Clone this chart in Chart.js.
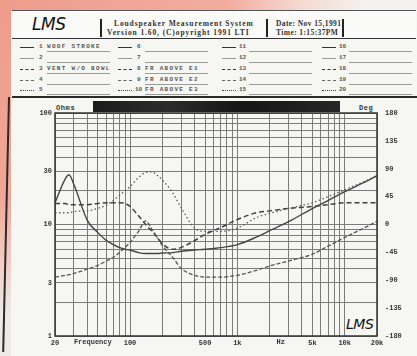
<!DOCTYPE html>
<html>
<head>
<meta charset="utf-8">
<script src="https://cdn.jsdelivr.net/npm/chart.js@4.4.1/dist/chart.umd.min.js"></script>
<style>
html, body { margin: 0; padding: 0; }
body { width: 417px; height: 356px; overflow: hidden; position: relative; background: #f6f6f3; color: #2a2a2a; }
.abs { position: absolute; }
#pinkTop { left: 0; top: 0; width: 417px; height: 11px; background: linear-gradient(90deg, #ee9c8c 0%, #f2ad9f 55%, #f5d9d1 72%, #f4f2ef 88%); }
#pinkLeft { left: 0; top: 0; width: 11px; height: 356px; background: linear-gradient(180deg, #ee9c8c 0%, #f0a797 55%, #f3cfc6 74%, #ecebe8 88%); }
#head { left: 12px; top: 10px; width: 404px; height: 27px; background: #fafaf8; border-top: 1px solid #555; border-bottom: 1px solid #333; }
.sep { top: 19px; width: 2px; height: 18px; background: #222; }
.htxt { font-family: "Liberation Serif", serif; font-weight: bold; font-size: 7.5px; letter-spacing: 0.9px; white-space: nowrap; color: #333; }
#logo { left: 32px; top: 14px; font-family: "DejaVu Sans", sans-serif; font-style: italic; font-size: 17px; color: #111; letter-spacing: -0.5px; }
.leg { height: 0; }
.num { font-family: "Liberation Mono", monospace; font-weight: bold; font-size: 6px; color: #555; }
.ltxt { font-family: "Liberation Mono", monospace; font-weight: bold; font-size: 6px; letter-spacing: 1.3px; color: #555; white-space: nowrap; }
.uline { height: 0; border-top: 1px solid #9a9a96; }
#rule { left: 12px; top: 96px; width: 405px; height: 2px; background: #2b2b2b; }
#vrule { left: 8px; top: 97px; width: 2px; height: 255px; background: #2b2b2b; transform: rotate(1.3deg); transform-origin: top left; }
#bar { left: 93px; top: 101px; width: 247px; height: 11px; background: linear-gradient(90deg, #1b1b1b, #2c2c2c 30%, #161616 60%, #262626); }
.axt { font-family: "Liberation Mono", monospace; font-weight: bold; font-size: 7px; color: #333; letter-spacing: 0.6px; }
#lms2 { left: 346px; top: 316px; font-family: "DejaVu Sans", sans-serif; font-style: italic; font-size: 14px; color: #111; letter-spacing: -0.5px; }
canvas { position: absolute; left: 0; top: 0; }
</style>
</head>
<body>
<div id="pinkTop" class="abs"></div>
<div id="pinkLeft" class="abs"></div>
<div id="head" class="abs"></div>
<div class="abs sep" style="left:100px"></div>
<div class="abs sep" style="left:266px"></div>
<div class="abs sep" style="left:342px"></div>
<div id="logo" class="abs">LMS</div>
<div class="abs htxt" style="left:114px;top:19px">Loudspeaker Measurement System</div>
<div class="abs htxt" style="left:107px;top:28px">Version 1.60, (C)opyright 1991 LTI</div>
<div class="abs htxt" style="left:276px;top:19px;letter-spacing:0.4px">Date: Nov 15,1991</div>
<div class="abs htxt" style="left:276px;top:28px;letter-spacing:0.4px">Time: 1:15:37PM</div>
<div id="legend"></div>
<div id="rule" class="abs"></div>
<div id="vrule" class="abs"></div>
<div id="bar" class="abs"></div>
<div class="abs axt" style="left:56px;top:104px">Ohms</div>
<div class="abs axt" style="left:359px;top:104px">Deg</div>
<div id="lms2" class="abs">LMS</div>
<canvas id="chart" width="417" height="356"></canvas>
<script>
// frequency points (Hz)
const freqs = [20, 25, 27, 30, 40, 50, 60, 70, 80, 90, 100, 120, 140, 160, 180, 200, 250, 300, 400, 500, 700, 1000, 1500, 2000, 3000, 5000, 7000, 10000, 15000, 20000];

// curve 1, impedance (Ohms, left axis)
const impedance = [15.7, 25.8, 27.9, 22.8, 10.9, 8.5, 7.2, 6.6, 6.2, 6.0, 5.9, 5.6, 5.5, 5.5, 5.5, 5.55, 5.6, 5.75, 5.9, 6.0, 6.2, 6.6, 7.7, 8.8, 10.6, 13.9, 16.4, 19.7, 23.7, 27.4];

// the dashed / dotted traces (degrees, right axis)
const phaseLow = [-85, -82, -81, -79, -72, -66, -59, -53, -45, -37, -29, -11, 6, -8, -21, -34, -53, -71, -82, -85, -85, -82, -74, -67, -59, -48, -35, -21, -6, 5];
const phaseHigh = [19, 19, 19, 21, 22, 26, 31, 39, 47, 55, 61, 76, 84, 85, 79, 72, 51, 27, -6, -11, -11, -6, 11, 18, 26, 35, 45, 56, 69, 79];
const phaseMid = [34, 34, 32, 32, 32, 34, 35, 35, 35, 34, 29, 14, 0, -11, -21, -31, -40, -37, -26, -16, -5, 8, 19, 22, 26, 29, 32, 35, 35, 35];

// axis ticks
const freqGrid = [20, 30, 40, 50, 60, 70, 80, 90, 100, 200, 300, 400, 500, 600, 700, 800, 900, 1000, 2000, 3000, 4000, 5000, 6000, 7000, 8000, 9000, 10000, 20000];
const freqLabels = { 20: '20', 100: '100', 500: '500', 1000: '1k', 5000: '5k', 10000: '10k', 20000: '20k' };
const axisWords = [{ text: 'Frequency', at: 45 }, { text: 'Hz', at: 2540 }];
const ohmGrid = [1, 2, 3, 4, 5, 6, 7, 8, 9, 10, 20, 30, 40, 50, 60, 70, 80, 90, 100];
const ohmLabels = [1, 3, 10, 30, 100];

// legend table of the printout
const legendNames = [
    ['WOOF STROKE', '', 'VENT W/O BOWL', '', ''],
    ['', '', 'FR ABOVE E1', 'FR ABOVE E2', 'FR ABOVE E3'],
    ['', '', '', '', ''],
    ['', '', '', '', '']
];

function buildLegend() {
    const colX = [20, 118, 222, 322];
    const rowY = [47, 58, 69, 80, 90];
    const styles = ['1.5px solid #333', '1px solid #999', '1.5px dashed #333', '1.5px dashed #666', '1.5px dotted #444'];
    let html = '';
    colX.forEach((x, c) => {
        rowY.forEach((y, r) => {
            const n = c * 5 + r + 1;
            html += `<div class="abs leg" style="left:${x}px;top:${y}px;width:14px;border-top:${styles[r]}"></div>`;
            html += `<div class="abs num" style="left:${x + (n > 9 ? 17 : 19)}px;top:${y - 4}px">${n}</div>`;
            html += `<div class="abs uline" style="left:${x + 27}px;top:${y + 4}px;width:63px"></div>`;
            if (legendNames[c][r]) {
                html += `<div class="abs ltxt" style="left:${x + 27}px;top:${y - 4}px">${legendNames[c][r]}</div>`;
            }
        });
    });
    document.getElementById('legend').innerHTML = html;
}

const framePlugin = {
    id: 'frame',
    afterDraw(chart) {
        const { ctx, chartArea: a, scales } = chart;
        ctx.save();
        ctx.strokeStyle = '#333';
        ctx.lineWidth = 1.5;
        ctx.strokeRect(a.left, a.top, a.right - a.left, a.bottom - a.top);
        ctx.font = 'bold 7px "Liberation Mono"';
        ctx.fillStyle = '#333';
        ctx.textAlign = 'center';
        ctx.textBaseline = 'top';
        axisWords.forEach(w => ctx.fillText(w.text, scales.x.getPixelForValue(w.at), a.bottom + 3));
        ctx.restore();
    }
};

function series(values) {
    return freqs.map((f, i) => ({ x: f, y: values[i] }));
}

function initializeChart() {
    Chart.defaults.font.family = '"Liberation Mono", monospace';
    Chart.defaults.font.size = 7;
    Chart.defaults.font.weight = 'bold';
    Chart.defaults.color = '#333';

    new Chart('chart', {
        type: 'line',
        data: {
            datasets: [
                {
                    label: 'Impedance',
                    data: series(impedance),
                    borderColor: '#454545',
                    borderWidth: 1.4,
                    yAxisID: 'y'
                },
                {
                    label: 'Phase low',
                    data: series(phaseLow),
                    borderColor: '#555',
                    borderWidth: 1.3,
                    borderDash: [4, 2],
                    yAxisID: 'yPhase'
                },
                {
                    label: 'Phase high',
                    data: series(phaseHigh),
                    borderColor: '#5a5a5a',
                    borderWidth: 1.3,
                    borderDash: [1.5, 2.5],
                    yAxisID: 'yPhase'
                },
                {
                    label: 'Phase mid',
                    data: series(phaseMid),
                    borderColor: '#404040',
                    borderWidth: 1.5,
                    borderDash: [5, 3],
                    yAxisID: 'yPhase'
                }
            ]
        },
        options: {
            responsive: false,
            devicePixelRatio: 1,
            animation: false,
            layout: { padding: { top: 113, left: 0, right: 0, bottom: 0 } },
            elements: {
                point: { radius: 0 },
                line: { cubicInterpolationMode: 'monotone', fill: false }
            },
            plugins: {
                legend: { display: false },
                tooltip: { enabled: false }
            },
            scales: {
                x: {
                    type: 'logarithmic',
                    min: 20,
                    max: 20000,
                    afterBuildTicks: scale => { scale.ticks = freqGrid.map(v => ({ value: v })); },
                    afterFit: scale => { scale.height = 20; },
                    grid: { color: '#7c7c7c', lineWidth: 1, drawTicks: false },
                    border: { display: false },
                    ticks: {
                        autoSkip: false,
                        maxRotation: 0,
                        padding: 3,
                        callback: value => freqLabels[value] || ''
                    }
                },
                y: {
                    type: 'logarithmic',
                    position: 'left',
                    min: 1,
                    max: 100,
                    afterBuildTicks: scale => { scale.ticks = ohmGrid.map(v => ({ value: v })); },
                    afterFit: scale => { scale.width = 55; },
                    grid: { color: '#7c7c7c', lineWidth: 1, drawTicks: false },
                    border: { display: false },
                    ticks: {
                        autoSkip: false,
                        padding: 3,
                        callback: value => ohmLabels.includes(value) ? String(value) : ''
                    }
                },
                yPhase: {
                    type: 'linear',
                    position: 'right',
                    min: -180,
                    max: 180,
                    afterFit: scale => { scale.width = 40; },
                    grid: { display: false, drawTicks: false },
                    border: { display: false },
                    ticks: {
                        stepSize: 45,
                        autoSkip: false,
                        padding: 8
                    }
                }
            }
        },
        plugins: [framePlugin]
    });
}

buildLegend();
initializeChart();
</script>
</body>
</html>
